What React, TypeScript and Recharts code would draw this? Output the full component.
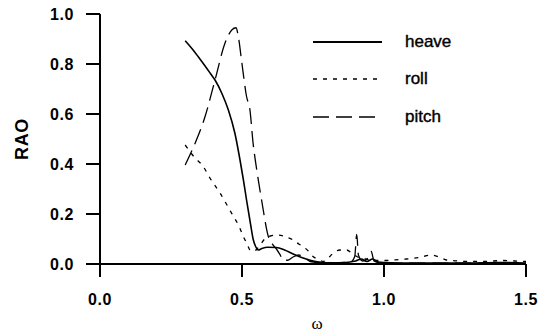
import { LineChart, Line, XAxis, YAxis, Legend } from 'recharts';

// frequency (omega) and RAO readings for each motion
const heaveW = [0.3, 0.325, 0.346, 0.37, 0.39, 0.405, 0.43, 0.452, 0.475, 0.493, 0.505, 0.516, 0.53, 0.54, 0.548, 0.557, 0.57, 0.59, 0.62, 0.65, 0.68, 0.71, 0.74, 0.77, 0.8, 0.85, 0.9, 0.92, 0.94, 0.96, 0.98, 1.0, 1.1, 1.2, 1.3, 1.4, 1.5];
const heaveR = [0.893, 0.86, 0.829, 0.792, 0.76, 0.736, 0.68, 0.616, 0.523, 0.416, 0.336, 0.256, 0.16, 0.096, 0.07, 0.056, 0.062, 0.067, 0.066, 0.056, 0.04, 0.026, 0.015, 0.008, 0.005, 0.005, 0.012, 0.02, 0.01, 0.02, 0.008, 0.006, 0.004, 0.004, 0.004, 0.006, 0.004];

const rollW = [0.3, 0.33, 0.364, 0.387, 0.423, 0.45, 0.47, 0.49, 0.505, 0.518, 0.528, 0.54, 0.56, 0.58, 0.6, 0.628, 0.655, 0.68, 0.7, 0.716, 0.735, 0.75, 0.77, 0.786, 0.8, 0.822, 0.845, 0.869, 0.885, 0.904, 0.93, 0.96, 1.0, 1.03, 1.08, 1.127, 1.168, 1.2, 1.22, 1.26, 1.3, 1.35, 1.42, 1.46, 1.5];
const rollR = [0.476, 0.43, 0.389, 0.344, 0.283, 0.23, 0.19, 0.15, 0.109, 0.08, 0.056, 0.05, 0.07, 0.1, 0.112, 0.116, 0.108, 0.096, 0.08, 0.069, 0.05, 0.03, 0.018, 0.01, 0.02, 0.044, 0.056, 0.056, 0.045, 0.03, 0.022, 0.015, 0.014, 0.016, 0.02, 0.027, 0.036, 0.025, 0.016, 0.012, 0.01, 0.01, 0.014, 0.012, 0.01];

const pitchW = [0.3, 0.33, 0.37, 0.405, 0.44, 0.464, 0.479, 0.487, 0.5, 0.516, 0.528, 0.539, 0.552, 0.569, 0.593, 0.61, 0.62, 0.635, 0.645, 0.66, 0.68, 0.7, 0.72, 0.74, 0.78, 0.82, 0.86, 0.885, 0.897, 0.904, 0.91, 0.925, 0.94, 0.955, 0.965, 0.98, 1.0, 1.1, 1.2, 1.3, 1.4, 1.5];
const pitchR = [0.396, 0.47, 0.59, 0.736, 0.883, 0.936, 0.945, 0.91, 0.8, 0.67, 0.616, 0.484, 0.376, 0.256, 0.109, 0.075, 0.062, 0.035, 0.015, 0.015, 0.028, 0.036, 0.025, 0.01, 0.005, 0.004, 0.006, 0.01, 0.03, 0.118, 0.035, 0.012, 0.02, 0.05, 0.012, 0.006, 0.004, 0.003, 0.003, 0.003, 0.003, 0.003];

const xTicks = [0, 0.5, 1.0, 1.5];
const yTicks = [0, 0.2, 0.4, 0.6, 0.8, 1.0];

const toRows = (w: number[], r: number[]) => w.map((v, i) => ({ w: v, rao: r[i] }));

const series = [
  { name: 'heave', data: toRows(heaveW, heaveR), dash: undefined, width: 1.6 },
  { name: 'roll', data: toRows(rollW, rollR), dash: '4 6', width: 1.3 },
  { name: 'pitch', data: toRows(pitchW, pitchR), dash: '16 7', width: 1.3 },
];

const tickStyle = {
  fill: '#000',
  fontSize: 16,
  fontWeight: 'bold' as const,
  fontFamily: '"Liberation Sans", Arial, sans-serif',
  letterSpacing: 0.6,
};

const LegendBox = () => (
  <div style={{ fontFamily: '"Liberation Sans", Arial, sans-serif' }}>
    {series.map((s) => (
      <div key={s.name} style={{ display: 'flex', alignItems: 'center', height: 37.5 }}>
        <svg width={69} height={12}>
          <line x1={0} y1={6} x2={69} y2={6} stroke="#000" strokeWidth={s.width + 0.3} strokeDasharray={s.dash} />
        </svg>
        <span style={{ marginLeft: 23, fontSize: 17, color: '#000', WebkitTextStroke: '0.4px #000' }}>{s.name}</span>
      </div>
    ))}
  </div>
);

export default function App() {
  return (
    <div style={{ position: 'absolute', left: 0, top: 0, background: '#fff' }}>
      <LineChart width={545} height={333} margin={{ top: 14, right: 19, bottom: 0, left: 0 }}>
        <XAxis
          type="number"
          dataKey="w"
          domain={[0, 1.5]}
          ticks={xTicks}
          tickFormatter={(v: number) => v.toFixed(1)}
          height={69}
          tickSize={13}
          tickMargin={17}
          axisLine={{ stroke: '#000', strokeWidth: 2 }}
          tickLine={{ stroke: '#000', strokeWidth: 2 }}
          tick={tickStyle}
          allowDataOverflow
          label={{
            value: 'ω',
            position: 'insideBottom',
            offset: 4,
            dx: 4,
            style: { fill: '#000', fontSize: 17, fontFamily: '"Liberation Serif", "Times New Roman", serif' },
          }}
        />
        <YAxis
          type="number"
          domain={[0, 1]}
          ticks={yTicks}
          tickFormatter={(v: number) => v.toFixed(1)}
          width={100}
          tickSize={14}
          tickMargin={12}
          axisLine={{ stroke: '#000', strokeWidth: 2 }}
          tickLine={{ stroke: '#000', strokeWidth: 2 }}
          tick={tickStyle}
          allowDataOverflow
          label={{
            content: (props: any) => {
              const vb = props.viewBox;
              const cx = vb.x + 22;
              const cy = vb.y + vb.height / 2;
              return (
                <text
                  x={cx}
                  y={cy}
                  transform={`rotate(-90 ${cx} ${cy})`}
                  textAnchor="middle"
                  dominantBaseline="central"
                  style={{ ...tickStyle, fontSize: 18 }}
                >
                  RAO
                </text>
              );
            },
          }}
        />
        <Legend
          layout="vertical"
          align="center"
          verticalAlign="middle"
          content={<LegendBox />}
          wrapperStyle={{ left: 313, top: 23, width: 170 }}
        />
        {series.map((s) => (
          <Line
            key={s.name}
            name={s.name}
            data={s.data}
            dataKey="rao"
            type="monotone"
            stroke="#000"
            strokeWidth={s.width}
            strokeDasharray={s.dash}
            dot={false}
            activeDot={false}
            isAnimationActive={false}
          />
        ))}
      </LineChart>
    </div>
  );
}
